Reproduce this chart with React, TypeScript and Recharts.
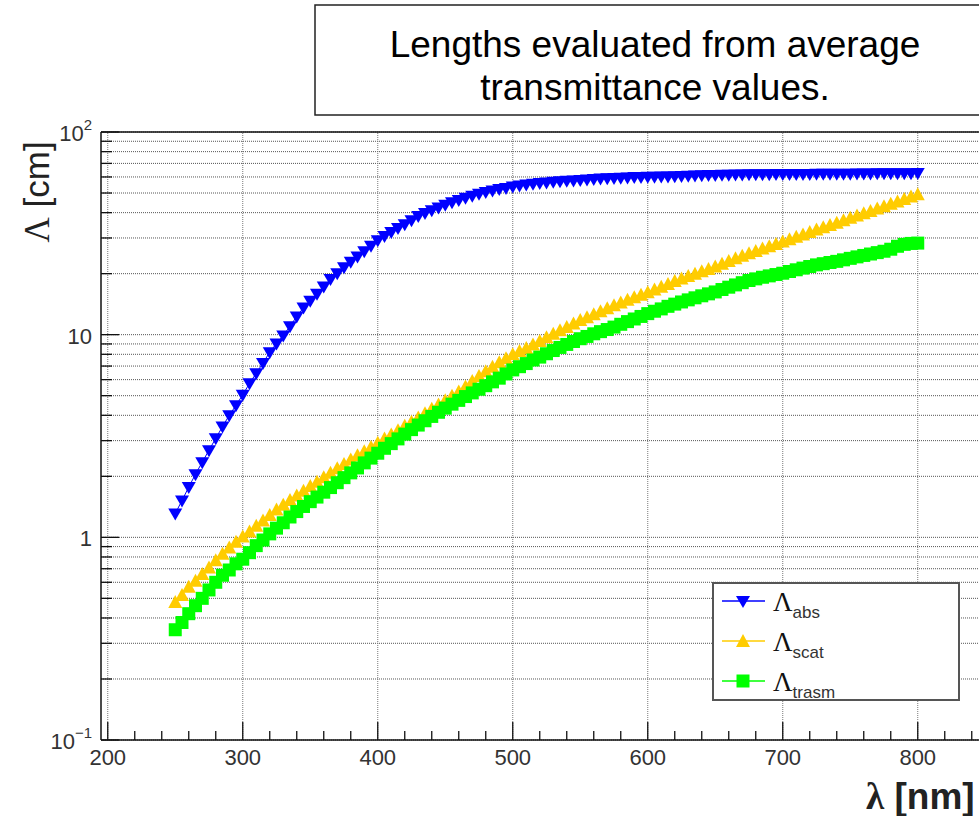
import React from 'react';
import { LineChart, Line, XAxis, YAxis, CartesianGrid, ReferenceLine, Legend } from 'recharts';

const wavelengths = [
  250, 255, 260, 265, 270, 275, 280, 285, 290, 295,
  300, 305, 310, 315, 320, 325, 330, 335, 340, 345,
  350, 355, 360, 365, 370, 375, 380, 385, 390, 395,
  400, 405, 410, 415, 420, 425, 430, 435, 440, 445,
  450, 455, 460, 465, 470, 475, 480, 485, 490, 495,
  500, 505, 510, 515, 520, 525, 530, 535, 540, 545,
  550, 555, 560, 565, 570, 575, 580, 585, 590, 595,
  600, 605, 610, 615, 620, 625, 630, 635, 640, 645,
  650, 655, 660, 665, 670, 675, 680, 685, 690, 695,
  700, 705, 710, 715, 720, 725, 730, 735, 740, 745,
  750, 755, 760, 765, 770, 775, 780, 785, 790, 795,
  800,
];

const absValues = [
  1.31, 1.52, 1.77, 2.05, 2.35, 2.69, 3.08, 3.52, 4.0, 4.48,
  5.05, 5.75, 6.45, 7.25, 8.2, 9.05, 9.9, 11.0, 12.3, 13.6,
  14.7, 15.9, 17.3, 18.8, 20.1, 21.5, 22.9, 24.3, 25.8, 27.5,
  29.2, 30.7, 32.1, 33.6, 35.1, 36.7, 38.5, 39.8, 41.1, 42.4,
  43.7, 45.0, 46.2, 47.4, 48.5, 49.6, 50.6, 51.5, 52.3, 53.0,
  53.8, 54.5, 55.1, 55.6, 56.0, 56.4, 56.8, 57.1, 57.4, 57.7,
  58.0, 58.3, 58.6, 58.9, 59.1, 59.3, 59.5, 59.7, 59.9, 60.0,
  60.1, 60.2, 60.3, 60.4, 60.5, 60.6, 60.8, 61.0, 61.2, 61.3,
  61.4, 61.5, 61.6, 61.7, 61.7, 61.8, 61.8, 61.9, 61.9, 62.0,
  62.0, 62.0, 62.1, 62.1, 62.1, 62.2, 62.2, 62.2, 62.3, 62.3,
  62.3, 62.4, 62.4, 62.4, 62.5, 62.5, 62.5, 62.6, 62.6, 62.6,
  62.7,
];

const scatValues = [
  0.48, 0.52, 0.57, 0.61, 0.66, 0.71, 0.77, 0.83, 0.89, 0.95,
  1.01, 1.07, 1.14, 1.21, 1.29, 1.37, 1.45, 1.53, 1.61, 1.70,
  1.79, 1.88, 1.98, 2.08, 2.19, 2.30, 2.42, 2.54, 2.66, 2.79,
  2.93, 3.07, 3.22, 3.38, 3.55, 3.72, 3.90, 4.10, 4.31, 4.52,
  4.75, 4.99, 5.25, 5.55, 5.9, 6.25, 6.6, 6.95, 7.3, 7.65,
  8.0, 8.3, 8.6, 8.95, 9.3, 9.7, 10.1, 10.5, 10.9, 11.35,
  11.8, 12.2, 12.6, 13.05, 13.5, 13.95, 14.4, 14.85, 15.3, 15.75,
  16.2, 16.7, 17.25, 17.8, 18.4, 18.95, 19.5, 20.0, 20.55, 21.1,
  21.7, 22.4, 23.1, 23.8, 24.5, 25.2, 25.9, 26.6, 27.3, 28.0,
  28.8, 29.6, 30.4, 31.2, 32.1, 33.0, 33.9, 34.8, 35.7, 36.7,
  37.7, 38.7, 39.7, 40.8, 41.9, 43.0, 44.2, 45.4, 46.7, 48.0,
  49.3,
];

const trasmValues = [
  0.35, 0.38, 0.42, 0.46, 0.50, 0.55, 0.60, 0.65, 0.69, 0.74,
  0.78, 0.84, 0.91, 0.97, 1.04, 1.11, 1.18, 1.26, 1.34, 1.42,
  1.50, 1.58, 1.67, 1.76, 1.86, 1.97, 2.08, 2.20, 2.33, 2.46,
  2.60, 2.75, 2.90, 3.06, 3.23, 3.40, 3.58, 3.76, 3.95, 4.14,
  4.34, 4.54, 4.74, 4.95, 5.16, 5.38, 5.6, 5.85, 6.1, 6.4,
  6.7, 6.95, 7.2, 7.5, 7.75, 8.05, 8.35, 8.65, 8.95, 9.25,
  9.55, 9.8, 10.1, 10.35, 10.6, 10.9, 11.25, 11.6, 11.95, 12.3,
  12.7, 13.05, 13.4, 13.8, 14.15, 14.5, 14.85, 15.2, 15.55, 15.9,
  16.25, 16.7, 17.15, 17.6, 18.05, 18.5, 18.85, 19.2, 19.5, 19.8,
  20.1, 20.5, 20.9, 21.3, 21.7, 22.1, 22.4, 22.7, 23.0, 23.4,
  23.8, 24.2, 24.6, 25.0, 25.4, 25.8, 26.4, 27.3, 27.9, 28.2,
  28.3,
];

const xMajorTicks = [200, 300, 400, 500, 600, 700, 800];
const xTicks = [
  200, 220, 240, 260, 280, 300, 320, 340, 360, 380, 400, 420, 440, 460, 480,
  500, 520, 540, 560, 580, 600, 620, 640, 660, 680, 700, 720, 740, 760, 780,
  800, 820, 840,
];
const yTicks = [
  0.1, 0.2, 0.3, 0.4, 0.5, 0.6, 0.7, 0.8, 0.9,
  1, 2, 3, 4, 5, 6, 7, 8, 9,
  10, 20, 30, 40, 50, 60, 70, 80, 90,
  100,
];
const yTickLabels: Record<string, [string, string]> = {
  '0.1': ['10', '\u22121'],
  '1': ['1', ''],
  '10': ['10', ''],
  '100': ['10', '2'],
};

const titleLines = ['Lengths evaluated from average', 'transmittance values.'];
const seriesNames = [
  { key: 'abs', sub: 'abs', color: '#0000ff', marker: 'down' },
  { key: 'scat', sub: 'scat', color: '#ffcc00', marker: 'up' },
  { key: 'trasm', sub: 'trasm', color: '#00ff00', marker: 'square' },
];

const data = wavelengths.map((w, i) => ({
  nm: w,
  abs: absValues[i],
  scat: scatValues[i],
  trasm: trasmValues[i],
}));

const SANS = "'Liberation Sans', Arial, Helvetica, sans-serif";
const SERIF = "'Liberation Serif', 'Times New Roman', serif";

function markerPath(kind: string, cx: number, cy: number): string {
  if (kind === 'down') return `M${cx - 7},${cy - 5}L${cx + 7},${cy - 5}L${cx},${cy + 7}Z`;
  if (kind === 'up') return `M${cx - 7},${cy + 6}L${cx + 7},${cy + 6}L${cx},${cy - 7}Z`;
  return `M${cx - 6.5},${cy - 6.5}L${cx + 6.5},${cy - 6.5}L${cx + 6.5},${cy + 6.5}L${cx - 6.5},${cy + 6.5}Z`;
}

const makeDot = (kind: string, color: string) => (p: any) => {
  const { cx, cy, index } = p;
  if (cx == null || cy == null) return <g key={`d-${kind}-${index}`} />;
  return <path key={`d-${kind}-${index}`} d={markerPath(kind, cx, cy)} fill={color} stroke="none" />;
};

const XTick = (p: any) => {
  const { x, y, payload } = p;
  const v = payload.value;
  const major = v % 100 === 0;
  return (
    <g>
      <line x1={x} x2={x} y1={y} y2={y - (major ? 18 : 9)} stroke="#111" strokeWidth={1.3} />
      {major && (
        <text x={x} y={y + 25} textAnchor="middle" fontFamily={SANS} fontSize={22} fill="#333">
          {v}
        </text>
      )}
    </g>
  );
};

const YTick = (p: any) => {
  const { x, y, payload } = p;
  const v = payload.value;
  const lbl = yTickLabels[String(v)];
  const major = !!lbl;
  return (
    <g>
      <line x1={x} x2={x + (major ? 18 : 11)} y1={y} y2={y} stroke="#111" strokeWidth={1.3} />
      {lbl && (
        <text x={x - 9} y={y + 9} textAnchor="end" fontFamily={SANS} fontSize={22} fill="#333">
          {lbl[0]}
          {lbl[1] && (
            <tspan dy={-11} fontSize={15}>
              {lbl[1]}
            </tspan>
          )}
        </text>
      )}
    </g>
  );
};

const LegendBox = () => (
  <svg width={250} height={120} style={{ display: 'block' }}>
    <rect x={1} y={1} width={246} height={117} fill="#fff" stroke="#555" strokeWidth={2} />
    {seriesNames.map((s, i) => {
      const cy = 19 + i * 40;
      return (
        <g key={s.key}>
          <line x1={10} x2={53} y1={cy} y2={cy} stroke={s.color} strokeWidth={1.5} />
          <path d={markerPath(s.marker, 31, cy)} fill={s.color} />
          <text x={61} y={cy + 10} fontFamily={SERIF} fontSize={27} fill="#111">
            {'\u039B'}
            <tspan fontFamily={SANS} fontSize={17} fill="#333" dy={7}>
              {s.sub}
            </tspan>
          </text>
        </g>
      );
    })}
  </svg>
);

const XLabel = () => (
  <text x={866} y={809} fontWeight="bold" fontSize={37} fill="#222">
    <tspan fontFamily={SERIF}>{'\u03BB'}</tspan>
    <tspan fontFamily={SANS}> [nm]</tspan>
  </text>
);

const YLabel = () => (
  <text
    x={49}
    y={192}
    transform="rotate(-90 49 192)"
    textAnchor="middle"
    fontSize={35}
    fill="#222"
  >
    <tspan fontFamily={SERIF}>{'\u039B'}</tspan>
    <tspan fontFamily={SANS}>{'  [cm]'}</tspan>
  </text>
);

export default function App() {
  return (
    <div
      style={{
        position: 'absolute',
        left: 0,
        top: 0,
        width: 979,
        height: 816,
        overflow: 'hidden',
        background: '#fff',
      }}
    >
      <svg width={979} height={125} style={{ position: 'absolute', left: 0, top: 0 }}>
        <rect x={315} y={5} width={700} height={110} fill="#fff" stroke="#222" strokeWidth={1.5} />
        {titleLines.map((t, i) => (
          <text key={i} x={655} y={57 + i * 43} textAnchor="middle" fontFamily={SANS} fontSize={37} fill="#000">
            {t}
          </text>
        ))}
      </svg>
      <div style={{ position: 'absolute', left: 0, top: 0 }}>
        <LineChart
          width={1000}
          height={816}
          data={data}
          margin={{ top: 131, right: 8, bottom: 75, left: 100 }}
        >
          <CartesianGrid vertical={false} stroke="#555" strokeDasharray="1 1" />
          {xMajorTicks.map((t) => (
            <ReferenceLine key={t} x={t} stroke="#777" strokeDasharray="1 1" />
          ))}
          <XAxis
            dataKey="nm"
            type="number"
            domain={[195, 855]}
            allowDataOverflow
            ticks={xTicks}
            interval={0}
            tick={<XTick />}
            tickLine={false}
            tickSize={0}
            tickMargin={0}
            height={1}
            axisLine={{ stroke: '#111', strokeWidth: 1.5 }}
            label={<XLabel />}
          />
          <XAxis
            xAxisId="top"
            orientation="top"
            dataKey="nm"
            type="number"
            domain={[195, 855]}
            allowDataOverflow
            tick={false}
            tickLine={false}
            height={1}
            axisLine={{ stroke: '#111', strokeWidth: 1.5 }}
          />
          <YAxis
            type="number"
            scale="log"
            domain={[0.1, 100]}
            allowDataOverflow
            ticks={yTicks}
            interval={0}
            tick={<YTick />}
            tickLine={false}
            tickSize={0}
            tickMargin={0}
            width={1}
            axisLine={{ stroke: '#111', strokeWidth: 1.5 }}
            label={<YLabel />}
          />
          {seriesNames.map((s) => (
            <Line
              key={s.key}
              type="linear"
              dataKey={s.key}
              stroke={s.color}
              strokeWidth={1}
              dot={makeDot(s.marker, s.color)}
              activeDot={false}
              isAnimationActive={false}
            />
          ))}
          <Legend
            layout="vertical"
            align="center"
            verticalAlign="middle"
            content={<LegendBox />}
            wrapperStyle={{ left: 712, top: 582, width: 250, height: 120 }}
          />
        </LineChart>
      </div>
    </div>
  );
}
